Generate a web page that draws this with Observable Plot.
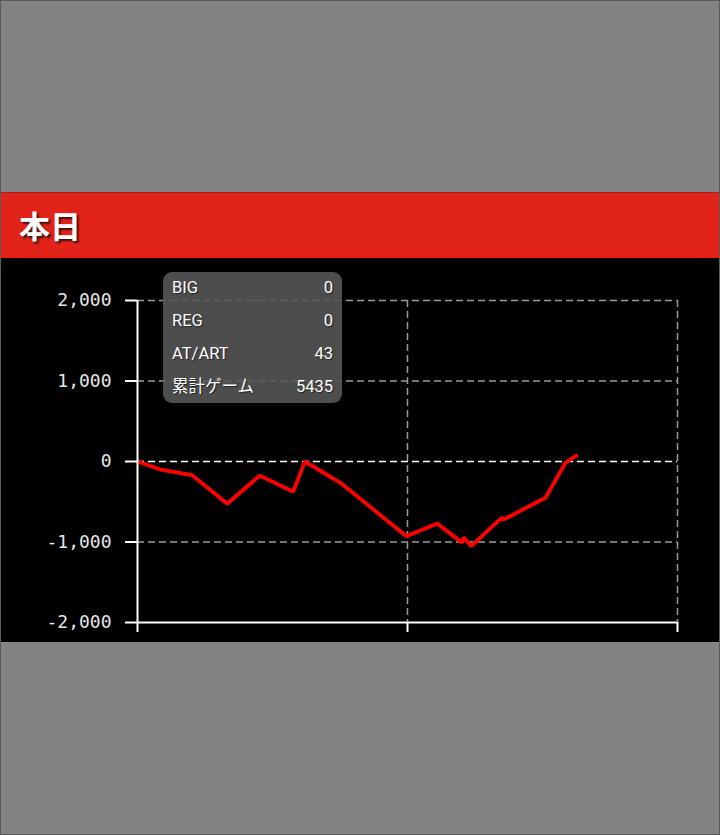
<!DOCTYPE html>
<html>
<head>
<meta charset="utf-8">
<script src="https://cdn.jsdelivr.net/npm/d3@7"></script>
<script src="https://cdn.jsdelivr.net/npm/@observablehq/plot@0.6"></script>
<style>
  html, body { margin: 0; padding: 0; }
  body { width: 720px; height: 835px; background: #838383; position: relative; overflow: hidden; }
  #frame { position: absolute; left: 0; top: 0; width: 720px; height: 835px; box-sizing: border-box; border: 1px solid #5a5a5a; pointer-events: none; z-index: 5; }
  #header { position: absolute; left: 0; top: 192px; width: 720px; height: 66px; box-sizing: border-box;
            background: #e2231a; border: 1px solid #ff1010; border-top: 1px solid #a0201a; }
  #header h1 { margin: 0; position: absolute; left: 18px; top: 50%; transform: translateY(-52%);
               font-family: "Noto Sans CJK JP", sans-serif; font-weight: 700; font-size: 31px; color: #fff;
               text-shadow: 2px 2px 2px #3a1010; line-height: 1; }
  #chart { position: absolute; left: 0; top: 258px; width: 720px; height: 384px; background: #000; }
  #tip { position: absolute; left: 163px; top: 14px; width: 179px; height: 131px; border-radius: 9px;
         background: rgba(88,88,88,0.88); font-family: Roboto, "Noto Sans CJK JP", sans-serif; font-size: 16.5px; color: #fff;
         text-shadow: 1px 1px 1px #222; }
  .row { position: absolute; left: 9px; right: 9px; height: 20px; line-height: 20px; display: flex; justify-content: space-between; }
</style>
</head>
<body>
<div id="frame"></div>
<div id="header"><h1>本日</h1></div>
<div id="chart"><div id="tip"></div></div>
<script>
// Cumulative games (x) and difference in medals (y)
const games = [0, 341, 810, 1329, 1812, 2307, 2479, 3007, 3985, 4440, 4810, 4834, 4944, 5393, 5427, 6044, 6341, 6504];
const diff  = [0, -100, -170, -525, -175, -376, 0, -265, -928, -770, -1010, -940, -1052, -700, -720, -450, -16, 75];
const yTicks = [-2000, -1000, 0, 1000, 2000];
const xTicks = [0, 4000, 8000];
const tipLabels = ["BIG", "REG", "AT/ART", "累計ゲーム"];
const tipValues = [0, 0, 43, 5435];

const data = games.map((g, i) => ({g, d: diff[i]}));
const fmt = d3.format(",");
const yFmt = d => fmt(d).replace("\u2212", "-");

const plot = Plot.plot({
  width: 720,
  height: 384,
  marginLeft: 137,
  marginRight: 43,
  marginTop: 42,
  marginBottom: 20,
  x: {domain: [0, 8000]},
  y: {domain: [-2000, 2000]},
  style: {background: "#000", color: "#ddd", fontFamily: "'DejaVu Sans Mono', monospace", fontSize: "18px", overflow: "visible"},
  marks: [
    Plot.ruleY(yTicks.filter(d => d !== 0 && d !== -2000), {y: d => d, stroke: "#9a9a9a", strokeWidth: 1.5, strokeDasharray: "7,4"}),
    Plot.ruleX(xTicks.filter(d => d !== 0), {x: d => d, stroke: "#9a9a9a", strokeWidth: 1.5, strokeDasharray: "7,4"}),
    Plot.ruleY([0], {stroke: "#fff", strokeWidth: 1.5, strokeDasharray: "7,4"}),
    Plot.line(data, {x: "g", y: "d", stroke: "#ff0000", strokeWidth: 3.8, strokeLinejoin: "miter"}),
    Plot.ruleY([-2000], {stroke: "#fff", strokeWidth: 2}),
    Plot.ruleX([0], {stroke: "#fff", strokeWidth: 2}),
    Plot.axisY({ticks: yTicks, tickSize: 12, tickPadding: 14, tickFormat: yFmt, label: null, stroke: "#fff", strokeWidth: 2, fill: "#e6e6e6"}),
    Plot.axisX({ticks: xTicks, tickSize: 10, tickFormat: () => "", label: null, stroke: "#fff", strokeWidth: 2})
  ]
});
document.getElementById("chart").appendChild(plot);
plot.style.position = "absolute";
plot.style.left = "0";
plot.style.top = "0";

const tip = document.getElementById("tip");
tipLabels.forEach((lab, i) => {
  const r = document.createElement("div");
  r.className = "row";
  r.style.top = (6 + i * 33) + "px";
  const a = document.createElement("span"); a.textContent = lab;
  const b = document.createElement("span"); b.textContent = String(tipValues[i]);
  r.appendChild(a); r.appendChild(b);
  tip.appendChild(r);
});
document.getElementById("chart").appendChild(tip);
</script>
</body>
</html>
